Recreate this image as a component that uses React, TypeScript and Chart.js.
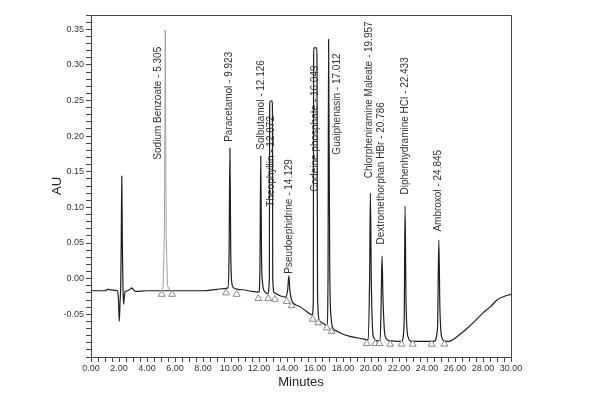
import React, { useEffect, useRef } from "react";
import { Chart, registerables } from "chart.js";

Chart.register(...registerables);

// Detector trace (minutes, AU)
const tracePoints: [number, number][] = [
  [0, -0.017], [1.0, -0.017], [1.2, -0.015], [1.5, -0.016], [1.9, -0.017],
  [1.96, -0.03], [2.02, -0.06], [2.08, -0.03], [2.12, -0.012], [2.16, 0.05],
  [2.2, 0.144], [2.24, 0.05], [2.28, -0.01], [2.33, -0.036], [2.38, -0.025],
  [2.45, -0.018], [2.6, -0.017], [2.8, -0.015], [2.9, -0.013], [3.0, -0.015],
  [3.2, -0.018], [4.0, -0.017], [6.0, -0.017], [8.0, -0.017], [9.0, -0.015],
  [9.5, -0.014], [9.78, -0.013], [9.86, 0.03], [9.923, 0.183], [9.98, 0.04],
  [10.05, -0.005], [10.2, -0.013], [10.5, -0.015], [11.0, -0.016], [11.5, -0.018],
  [12.0, -0.019], [12.07, 0.02], [12.126, 0.172], [12.18, 0.03], [12.25, -0.005],
  [12.4, -0.018], [12.62, -0.021], [12.74, 0.0], [12.76, 0.24], [12.78, 0.249],
  [12.94, 0.249], [12.96, 0.24], [12.98, 0.0], [13.1, -0.02], [13.5, -0.024],
  [13.9, -0.026], [14.05, -0.015], [14.129, 0.004], [14.2, -0.015], [14.35, -0.031],
  [14.9, -0.039], [15.4, -0.046], [15.8, -0.051], [15.88, -0.03], [15.9, 0.31],
  [15.92, 0.324], [16.12, 0.324], [16.14, 0.31], [16.18, -0.02], [16.3, -0.058],
  [16.6, -0.063], [16.85, -0.066], [16.93, 0.0], [16.97, 0.336], [17.05, 0.02],
  [17.15, -0.055], [17.3, -0.07], [17.6, -0.074], [18.0, -0.078], [18.5, -0.081],
  [19.0, -0.083], [19.5, -0.085], [19.8, -0.086], [19.9, 0.0], [19.957, 0.12],
  [20.02, 0.0], [20.15, -0.08], [20.4, -0.087], [20.65, -0.087], [20.72, -0.04],
  [20.786, 0.032], [20.86, -0.03], [21.0, -0.08], [21.3, -0.087], [22.2, -0.088],
  [22.37, -0.06], [22.433, 0.102], [22.5, -0.03], [22.65, -0.082], [22.9, -0.088],
  [24.5, -0.088], [24.75, -0.07], [24.845, 0.0545], [24.92, -0.04], [25.05, -0.082],
  [25.3, -0.088], [25.6, -0.088], [25.9, -0.085], [26.3, -0.079], [26.8, -0.071],
  [27.4, -0.06], [28.0, -0.048], [28.5, -0.04], [29.0, -0.03], [29.5, -0.025],
  [30.0, -0.022],
];

// Sodium benzoate peak (drawn in grey)
const benzoatePoints: [number, number][] = [
  [5.0, -0.017], [5.15, -0.012], [5.24, 0.06], [5.305, 0.349],
  [5.37, 0.06], [5.46, -0.01], [5.65, -0.017],
];

// Peak start/end markers
const markerTimes = [
  5.05, 5.8, 9.64, 10.4, 11.95, 12.66, 13.14, 13.98, 14.33, 15.83, 16.24,
  16.84, 17.19, 19.69, 20.29, 20.6, 21.36, 22.19, 22.98, 24.33, 25.24,
];
const markerAU = [
  -0.022, -0.022, -0.02, -0.022, -0.028, -0.028, -0.029, -0.032, -0.038, -0.057, -0.062,
  -0.069, -0.074, -0.091, -0.091, -0.091, -0.092, -0.092, -0.092, -0.092, -0.092,
];

// Peak labels
const peakNames = [
  "Sodium Benzoate", "Paracetamol", "Solbutamol", "Theophyllin", "Pseudoephidrine",
  "Codeine phosphate", "Guaiphenasin", "Chlorpheniramine Maleate", "Dextromethorphan HBr",
  "Diphenhydramine HCl", "Ambroxol",
];
const peakTimes = [5.305, 9.923, 12.126, 12.872, 14.129, 16.049, 17.012, 19.957, 20.786, 22.433, 24.845];
const labelTimes = [4.79, 9.86, 12.14, 12.9, 14.16, 16.0, 17.59, 19.88, 20.76, 22.48, 24.79];
const labelAU = [0.167, 0.192, 0.181, 0.101, 0.007, 0.122, 0.174, 0.141, 0.048, 0.118, 0.066];

const FONT = "'Liberation Sans', Arial, sans-serif";

export default function App() {
  const canvasRef = useRef<HTMLCanvasElement | null>(null);

  useEffect(() => {
    const canvas = canvasRef.current;
    if (!canvas) return;

    const framePlugin = {
      id: "frameAndLabels",
      afterDatasetsDraw(chart: any) {
        const { ctx, chartArea, scales } = chart;
        ctx.save();
        ctx.strokeStyle = "#444";
        ctx.lineWidth = 1;
        ctx.beginPath();
        ctx.moveTo(chartArea.left, chartArea.top + 0.5);
        ctx.lineTo(chartArea.right + 0.5, chartArea.top + 0.5);
        ctx.lineTo(chartArea.right + 0.5, chartArea.bottom);
        ctx.stroke();

        ctx.fillStyle = "#333";
        ctx.font = `10px ${FONT}`;
        ctx.textAlign = "left";
        ctx.textBaseline = "middle";
        for (let i = 0; i < peakNames.length; i++) {
          const px = scales.x.getPixelForValue(labelTimes[i]);
          const py = scales.y.getPixelForValue(labelAU[i]);
          ctx.save();
          ctx.translate(px, py);
          ctx.rotate(-Math.PI / 2);
          ctx.fillText(`${peakNames[i]} - ${peakTimes[i].toFixed(3)}`, 0, 0);
          ctx.restore();
        }
        ctx.restore();
      },
    };

    const chart = new Chart(canvas, {
      type: "line",
      data: {
        datasets: [
          {
            label: "markers",
            data: markerTimes.map((t, i) => ({ x: t, y: markerAU[i] })),
            showLine: false,
            pointStyle: "triangle",
            pointRadius: 4,
            pointBorderWidth: 1,
            pointBorderColor: "#8a8a8a",
            pointBackgroundColor: "#ffffff",
          },
          {
            label: "benzoate",
            data: benzoatePoints.map(([x, y]) => ({ x, y })),
            borderColor: "#a0a0a0",
            borderWidth: 1,
            pointRadius: 0,
            tension: 0,
          },
          {
            label: "trace",
            data: tracePoints.map(([x, y]) => ({ x, y })),
            borderColor: "#1e1e1e",
            borderWidth: 1.2,
            pointRadius: 0,
            cubicInterpolationMode: "monotone",
          },
        ],
      },
      options: {
        responsive: false,
        animation: false,
        devicePixelRatio: 1,
        layout: { padding: { top: 15, right: 89, bottom: 0, left: 0 } },
        plugins: { legend: { display: false }, tooltip: { enabled: false } },
        scales: {
          x: {
            type: "linear",
            min: 0,
            max: 30,
            afterFit: (s: any) => {
              s.height = 43;
            },
            ticks: {
              stepSize: 0.5,
              autoSkip: false,
              maxRotation: 0,
              padding: 1,
              color: "#333",
              font: { family: FONT, size: 9 },
              callback: (v: any) => {
                const k = Math.round(Number(v) * 2);
                return k % 4 === 0 ? (k / 2).toFixed(2) : "";
              },
            },
            grid: { drawOnChartArea: false, drawTicks: true, tickLength: 5, tickColor: "#444" },
            border: { color: "#444" },
            title: {
              display: true,
              text: "Minutes",
              color: "#222",
              font: { family: FONT, size: 13 },
              padding: { top: 0, bottom: 10 },
            },
          },
          y: {
            type: "linear",
            min: -0.11,
            max: 0.37,
            afterFit: (s: any) => {
              s.width = 91;
            },
            ticks: {
              stepSize: 0.01,
              autoSkip: false,
              padding: 2,
              color: "#333",
              font: { family: FONT, size: 9 },
              callback: (v: any) => {
                const k = Math.round(Number(v) * 100);
                return k % 5 === 0 && k >= -5 && k <= 35 ? (k / 100).toFixed(2) : "";
              },
            },
            grid: { drawOnChartArea: false, drawTicks: true, tickLength: 5, tickColor: "#444" },
            border: { color: "#444" },
            title: {
              display: true,
              text: "AU",
              color: "#222",
              font: { family: FONT, size: 13 },
              padding: { top: 50, bottom: 0 },
            },
          },
        },
      },
      plugins: [framePlugin],
    } as any);

    return () => chart.destroy();
  }, []);

  return (
    <div style={{ position: "fixed", left: 0, top: 0, width: 600, height: 400, background: "#fff" }}>
      <canvas ref={canvasRef} width={600} height={400} />
    </div>
  );
}
